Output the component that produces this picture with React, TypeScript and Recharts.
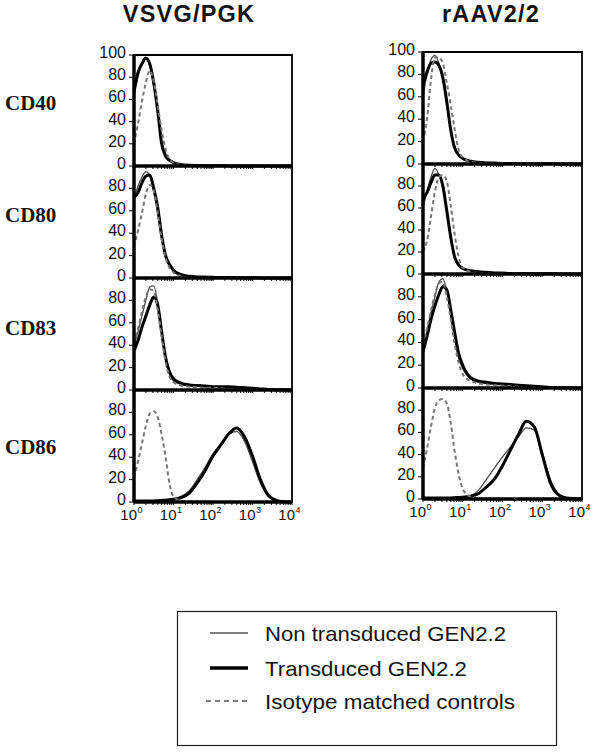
import React from "react";
import { LineChart, Line, XAxis, YAxis, ReferenceArea } from "recharts";

// fluorescence intensity, in decades (log10), shared by every histogram
const logIntensity = [0, 0.1, 0.2, 0.3, 0.4, 0.5, 0.6, 0.7, 0.8, 0.9, 1.0, 1.2, 1.4, 1.6, 1.8, 2.0, 2.2, 2.4, 2.6, 2.8, 3.0, 3.2, 3.4, 3.6, 3.8, 4.0];

const columnTitles = ["VSVG/PGK", "rAAV2/2"];
const markers = ["CD40", "CD80", "CD83", "CD86"];
const exponents = ["0", "1", "2", "3", "4"];
const majorDecades = [0, 1, 2, 3, 4];
const yTicksTop = [0, 20, 40, 60, 80, 100];
const yTicks = [0, 20, 40, 60, 80];
const legendLabels = ["Non transduced GEN2.2", "Transduced GEN2.2", "Isotype matched controls"];

// VSVG/PGK column
const vsvgCD40Thin = [62, 80, 93, 98, 90, 72, 48, 22, 11, 6, 3.5, 1.5, 0.8, 0.5, 0.3, 0.2, 0.2, 0.1, 0.1, 0, 0, 0, 0, 0, 0, 0];
const vsvgCD40Thick = [68, 84, 92, 97, 92, 75, 50, 20, 9, 5, 3, 1.2, 0.6, 0.4, 0.3, 0.2, 0.2, 0.1, 0.1, 0, 0, 0, 0, 0, 0, 0];
const vsvgCD40Iso = [20, 38, 58, 75, 86, 76, 55, 32, 15, 6, 3, 1, 0.5, 0.2, 0, 0, 0, 0, 0, 0, 0, 0, 0, 0, 0, 0];

const vsvgCD80Thin = [70, 82, 90, 95, 91, 77, 58, 35, 19, 11, 6, 2.5, 1.2, 0.8, 0.6, 0.5, 0.4, 0.3, 0.2, 0.2, 0.1, 0.1, 0, 0, 0, 0];
const vsvgCD80Thick = [72, 76, 85, 91, 92, 80, 63, 38, 20, 12, 7, 3, 1.5, 1, 0.8, 0.6, 0.5, 0.4, 0.3, 0.2, 0.2, 0.1, 0.1, 0, 0, 0];
const vsvgCD80Iso = [28, 42, 58, 75, 83, 78, 58, 35, 18, 9, 5, 1.5, 0.5, 0.3, 0.2, 0.1, 0, 0, 0, 0, 0, 0, 0, 0, 0, 0];

const vsvgCD83Thin = [40, 52, 66, 80, 92, 93, 78, 52, 27, 14, 8, 5, 4, 3.5, 3, 2.5, 2.5, 2, 2, 1.5, 1, 0.5, 0.3, 0.2, 0.1, 0];
const vsvgCD83Thick = [35, 44, 56, 66, 76, 83, 76, 52, 29, 16, 10, 6, 4.5, 4, 3.5, 3, 3, 2.8, 2.5, 2, 1.5, 1, 0.5, 0.3, 0.2, 0];
const vsvgCD83Iso = [42, 55, 70, 83, 90, 88, 72, 48, 25, 12, 7, 4, 3, 2.5, 2, 2, 1.5, 1, 1, 0.5, 0.3, 0.2, 0.1, 0, 0, 0];

const vsvgCD86Thin = [1, 1, 1, 1, 1, 1, 1.2, 1.4, 1.6, 2, 2.5, 5, 10, 20, 31, 43, 52, 60, 63, 54, 36, 17, 5, 1, 0.2, 0];
const vsvgCD86Thick = [1, 1, 1, 1, 1, 1, 1.2, 1.4, 1.6, 2, 2.5, 4, 8, 17, 28, 41, 51, 61, 66, 58, 41, 20, 6, 1.5, 0.3, 0];
const vsvgCD86Iso = [22, 36, 52, 68, 79, 81, 76, 60, 40, 16, 5, 1, 0.5, 0.3, 0.2, 0.1, 0, 0, 0, 0, 0, 0, 0, 0, 0, 0];

// rAAV2/2 column
const raavCD40Thin = [60, 80, 93, 97, 90, 75, 52, 30, 15, 8, 5, 2.5, 1.5, 1, 0.8, 0.5, 0.4, 0.3, 0.2, 0.2, 0.1, 0.1, 0, 0, 0, 0];
const raavCD40Thick = [70, 82, 90, 91, 88, 77, 55, 30, 14, 8, 5, 2.5, 1.5, 1, 0.8, 0.5, 0.5, 0.3, 0.3, 0.3, 0.2, 0.2, 0.1, 0, 0, 0];
const raavCD40Iso = [20, 40, 75, 95, 95, 90, 72, 52, 30, 12, 6, 2, 1, 0.5, 0.3, 0.2, 0.1, 0, 0, 0, 0, 0, 0, 0, 0, 0];

const raavCD80Thin = [60, 75, 88, 96, 90, 78, 55, 32, 15, 8, 5, 3, 2, 1.5, 1, 0.8, 0.5, 0.4, 0.3, 0.3, 0.2, 0.1, 0, 0, 0, 0];
const raavCD80Thick = [68, 74, 83, 90, 90, 80, 57, 33, 15, 8, 5, 3, 2, 1.5, 1, 0.8, 0.5, 0.5, 0.4, 0.3, 0.3, 0.2, 0.1, 0, 0, 0];
const raavCD80Iso = [20, 30, 52, 75, 88, 90, 84, 62, 35, 15, 6, 2, 1, 0.5, 0.3, 0.2, 0.1, 0, 0, 0, 0, 0, 0, 0, 0, 0];

const raavCD83Thin = [35, 50, 66, 80, 93, 96, 84, 63, 42, 26, 17, 8, 5, 4, 3.5, 3, 2.5, 2, 1.5, 1, 0.5, 0.3, 0.2, 0.1, 0, 0];
const raavCD83Thick = [32, 45, 60, 72, 82, 89, 86, 68, 48, 30, 20, 9, 6, 5, 4, 3.5, 3, 2.5, 2, 1.5, 1, 0.5, 0.3, 0.2, 0.1, 0];
const raavCD83Iso = [38, 52, 68, 82, 92, 93, 80, 60, 38, 22, 12, 6, 4, 3, 2.5, 2, 1.5, 1, 0.5, 0.3, 0.2, 0.1, 0, 0, 0, 0];

const raavCD86Thin = [1, 1, 1, 1, 1, 1, 1, 1, 1.2, 1.3, 1.5, 3, 8, 18, 28, 38, 47, 56, 64, 62, 42, 18, 5, 1, 0.2, 0];
const raavCD86Thick = [1, 1, 1, 1, 1, 1, 1, 1, 1.2, 1.3, 1.5, 2.5, 5, 11, 18, 30, 44, 58, 70, 65, 40, 15, 4, 1, 0.3, 0];
const raavCD86Iso = [28, 45, 65, 82, 89, 90, 86, 68, 42, 22, 9, 2, 0.5, 0.3, 0.2, 0.1, 0, 0, 0, 0, 0, 0, 0, 0, 0, 0];

const columns = [
	[
		[vsvgCD40Thin, vsvgCD40Thick, vsvgCD40Iso],
		[vsvgCD80Thin, vsvgCD80Thick, vsvgCD80Iso],
		[vsvgCD83Thin, vsvgCD83Thick, vsvgCD83Iso],
		[vsvgCD86Thin, vsvgCD86Thick, vsvgCD86Iso],
	],
	[
		[raavCD40Thin, raavCD40Thick, raavCD40Iso],
		[raavCD80Thin, raavCD80Thick, raavCD80Iso],
		[raavCD83Thin, raavCD83Thick, raavCD83Iso],
		[raavCD86Thin, raavCD86Thick, raavCD86Iso],
	],
];

// layout (pixels)
const colLayout = [
	{ left: 134, right: 292, edges: [55, 166, 278, 390, 502] },
	{ left: 423, right: 582, edges: [52, 164, 274, 388, 499] },
];
const rowLabelY = [103, 215, 328, 447];
const legendRowY = [633, 668, 701];
const legendTextLen = [241, 202, 250];
const AXIS_W = 50;
const PAD = 12;
const FONT = "'Liberation Sans', Arial, sans-serif";

// log minor ticks: 1..9 x 10^n
const xTicks: number[] = [];
for (let d = 0; d < 4; d++) for (let k = 1; k < 10; k++) xTicks.push(d + Math.log10(k));
xTicks.push(4);

function XTick(props: any) {
	const { x, y, payload, showLabel } = props;
	const idx = majorDecades.indexOf(payload.value);
	if (!showLabel || idx < 0) return <g />;
	return (
		<g>
			<text x={x + 3} y={y + 13} textAnchor="end" fontSize={15} fill="#111" fontFamily={FONT}>
				10
			</text>
			<text x={x + 3.5} y={y + 6} textAnchor="start" fontSize={9} fill="#111" fontFamily={FONT}>
				{exponents[idx]}
			</text>
		</g>
	);
}

function YTick(props: any) {
	const { x, y, payload } = props;
	return (
		<text x={x} y={y + 3} textAnchor="end" fontSize={16} fill="#111" fontFamily={FONT}>
			{payload.value}
		</text>
	);
}

function Panel({ series, col, row }: { series: number[][]; col: number; row: number }) {
	const lay = colLayout[col];
	const top = lay.edges[row];
	const bottom = lay.edges[row + 1];
	const last = row === 3;
	const xh = last ? 30 : 6;
	const plotW = lay.right - lay.left;
	const data = logIntensity.map((x, i) => ({
		x,
		thin: series[0][i],
		thick: series[1][i],
		iso: series[2][i],
	}));
	return (
		<div style={{ position: "absolute", left: lay.left - AXIS_W, top: top - PAD }}>
			<LineChart
				width={AXIS_W + plotW + PAD}
				height={PAD + (bottom - top) + xh}
				data={data}
				margin={{ top: PAD, right: PAD, bottom: 0, left: 0 }}
			>
				<ReferenceArea x1={0} x2={4} y1={0} y2={100} fill="none" stroke="#000" strokeWidth={1.8} />
				<XAxis
					dataKey="x"
					type="number"
					domain={[0, 4]}
					ticks={xTicks}
					interval={0}
					height={xh}
					tickSize={3}
					tickMargin={2}
					stroke="#000"
					axisLine={{ stroke: "#000", strokeWidth: 3.5 }}
					tick={(p: any) => <XTick {...p} showLabel={last} />}
				/>
				<YAxis
					type="number"
					domain={[0, 100]}
					ticks={row === 0 ? yTicksTop : yTicks}
					interval={0}
					width={AXIS_W}
					tickSize={5}
					tickMargin={3}
					stroke="#000"
					axisLine={{ stroke: "#000", strokeWidth: 3.5 }}
					tick={(p: any) => <YTick {...p} />}
				/>
				<Line type="monotone" dataKey="thin" stroke="#4a4a4a" strokeWidth={1.3} dot={false} isAnimationActive={false} />
				<Line type="monotone" dataKey="thick" stroke="#000" strokeWidth={3} dot={false} isAnimationActive={false} />
				<Line type="monotone" dataKey="iso" stroke="#777" strokeWidth={2} strokeDasharray="4 3" dot={false} isAnimationActive={false} />
			</LineChart>
		</div>
	);
}

export default function App() {
	return (
		<div style={{ position: "absolute", left: 0, top: 0, width: 600, height: 755, background: "#fff" }}>
			<svg width={600} height={755} style={{ position: "absolute", left: 0, top: 0 }}>
				<text x={189} y={22} textAnchor="middle" fontSize={23.5} fontWeight="bold" letterSpacing={1.2} fontFamily={FONT} fill="#111">
					{columnTitles[0]}
				</text>
				<text x={491} y={22} textAnchor="middle" fontSize={23.5} fontWeight="bold" letterSpacing={1.2} fontFamily={FONT} fill="#111">
					{columnTitles[1]}
				</text>
				{markers.map((m, i) => (
					<text key={m} x={5} y={rowLabelY[i] + 7} fontSize={21} fontWeight="bold" fontFamily="'Liberation Serif', 'Times New Roman', serif" fill="#111">
						{m}
					</text>
				))}
				<rect x={177.5} y={611.5} width={379} height={134} fill="none" stroke="#222" strokeWidth={1.2} />
				<line x1={210} x2={248} y1={legendRowY[0]} y2={legendRowY[0]} stroke="#000" strokeWidth={1.2} />
				<line x1={210} x2={248} y1={legendRowY[1]} y2={legendRowY[1]} stroke="#000" strokeWidth={3.5} />
				<line x1={206} x2={248} y1={legendRowY[2]} y2={legendRowY[2]} stroke="#000" strokeWidth={1.2} strokeDasharray="5 4" />
				{legendLabels.map((t, i) => (
					<text
						key={t}
						x={265}
						y={legendRowY[i] + 8}
						fontSize={21}
						fontFamily={FONT}
						fill="#111"
						textLength={legendTextLen[i]}
						lengthAdjust="spacingAndGlyphs"
					>
						{t}
					</text>
				))}
			</svg>
			{columns.map((rows, c) => rows.map((s, r) => <Panel key={`${c}-${r}`} series={s} col={c} row={r} />))}
		</div>
	);
}
